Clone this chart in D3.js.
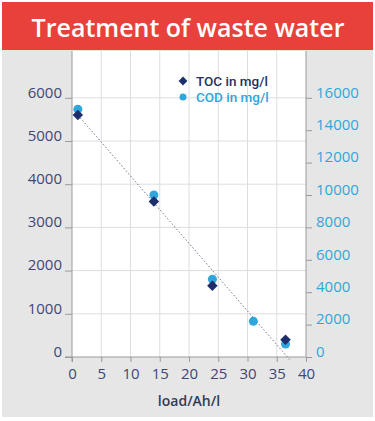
<!DOCTYPE html>
<html>
<head>
<meta charset="utf-8">
<script src="https://cdn.jsdelivr.net/npm/d3@7"></script>
<style>
  body { margin: 0; background: white; }
  svg { display: block; font-family: "Open Sans", sans-serif; }
</style>
</head>
<body>
<svg id="chart"></svg>
<script>
// values
const tocLoad = [1, 14, 24, 36.5];
const tocValues = [5600, 3600, 1650, 400];
const codLoad = [1, 14, 24, 31, 36.5];
const codValues = [15300, 10000, 4800, 2200, 800];
const trendLoad = [1, 37.2];
const trendValues = [5600, -60];
const xTicks = [0, 5, 10, 15, 20, 25, 30, 35, 40];
const leftTicks = [0, 1000, 2000, 3000, 4000, 5000, 6000];
const rightTicks = [0, 2000, 4000, 6000, 8000, 10000, 12000, 14000, 16000];

const dimensions = {
    width: 375,
    height: 421,
    plot: { left: 72, right: 306, top: 51, bottom: 357 }
};

const svg = d3.select("#chart")
    .attr("width", dimensions.width)
    .attr("height", dimensions.height);

const dark = "#3f4777";
const cyan = "#2fa6dc";

// gray panel and white plot area
svg.append("rect")
    .attr("x", 2).attr("y", 50)
    .attr("width", 371).attr("height", 367)
    .attr("fill", "#e6e6e6");

const xScale = d3.scaleLinear().domain([0, 40]).range([dimensions.plot.left, dimensions.plot.right]);
const yLeft = d3.scaleLinear().domain([0, 7000]).range([dimensions.plot.bottom, 54.6]);
const yRight = d3.scaleLinear().domain([0, 7000 * 16000 / 6000]).range([dimensions.plot.bottom, 54.6]);

svg.append("rect")
    .attr("x", dimensions.plot.left).attr("y", dimensions.plot.top)
    .attr("width", dimensions.plot.right - dimensions.plot.left)
    .attr("height", dimensions.plot.bottom - dimensions.plot.top)
    .attr("fill", "white");

// grid
svg.append("g")
    .selectAll("line")
    .data(xTicks.filter(d => d > 0 && d < 40))
    .enter().append("line")
    .attr("x1", d => xScale(d)).attr("x2", d => xScale(d))
    .attr("y1", dimensions.plot.top).attr("y2", dimensions.plot.bottom)
    .attr("stroke", "#dedede");

svg.append("g")
    .selectAll("line")
    .data(leftTicks.filter(d => d > 0))
    .enter().append("line")
    .attr("x1", dimensions.plot.left).attr("x2", dimensions.plot.right)
    .attr("y1", d => yLeft(d)).attr("y2", d => yLeft(d))
    .attr("stroke", "#dedede");

// axes
const xAxis = svg.append("g")
    .attr("transform", `translate(0, ${dimensions.plot.bottom})`)
    .call(d3.axisBottom(xScale).tickValues(xTicks).tickSize(5).tickPadding(6).tickSizeOuter(0));
xAxis.select(".domain").attr("d", `M${dimensions.plot.left - 7},0H${dimensions.plot.right}`);

const leftAxis = svg.append("g")
    .attr("transform", `translate(${dimensions.plot.left}, 0)`)
    .call(d3.axisLeft(yLeft).tickValues(leftTicks).tickFormat(d3.format("d")).tickSize(7).tickPadding(3).tickSizeOuter(0));
leftAxis.select(".domain").attr("d", `M0,${dimensions.plot.top}V${dimensions.plot.bottom + 5}`);
leftAxis.selectAll(".tick text").attr("dy", "-0.05em");

const rightAxis = svg.append("g")
    .attr("transform", `translate(${dimensions.plot.right}, 0)`)
    .call(d3.axisRight(yRight).tickValues(rightTicks).tickFormat(d3.format("d")).tickSize(6).tickPadding(4).tickSizeOuter(0));
rightAxis.select(".domain").attr("d", `M0,${dimensions.plot.top}V${dimensions.plot.bottom}`);
rightAxis.selectAll(".tick text").attr("dy", "-0.05em");

svg.selectAll(".domain").attr("stroke", "#9a9a9a");
svg.selectAll(".tick line").attr("stroke", "#9a9a9a");
svg.selectAll(".tick text")
    .style("font-family", "'Open Sans', sans-serif")
    .style("font-size", "15px");
xAxis.selectAll(".tick text").attr("fill", dark);
leftAxis.selectAll(".tick text").attr("fill", dark);
rightAxis.selectAll(".tick text").attr("fill", cyan);

// x label
svg.append("text")
    .attr("x", 189)
    .attr("y", 406)
    .attr("text-anchor", "middle")
    .attr("fill", "#333a55")
    .style("font-size", "14px")
    .style("font-weight", "600")
    .text("load/Ah/l");

// trend line
const trend = trendLoad.map((d, i) => [d, trendValues[i]]);
svg.append("path")
    .datum(trend)
    .attr("fill", "none")
    .attr("stroke", "#6c7a96")
    .attr("stroke-width", 1)
    .attr("stroke-dasharray", "1.5,2")
    .attr("d", d3.line().x(d => xScale(d[0])).y(d => yLeft(d[1])));

// COD points
svg.append("g")
    .selectAll("circle")
    .data(codLoad.map((d, i) => ({ load: d, value: codValues[i] })))
    .enter().append("circle")
    .attr("cx", d => xScale(d.load))
    .attr("cy", d => yRight(d.value))
    .attr("r", 4.5)
    .attr("fill", cyan);

// TOC points
const diamond = d3.symbol().type(d3.symbolDiamond2).size(70);
svg.append("g")
    .selectAll("path")
    .data(tocLoad.map((d, i) => ({ load: d, value: tocValues[i] })))
    .enter().append("path")
    .attr("transform", d => `translate(${xScale(d.load)},${yLeft(d.value)})`)
    .attr("d", diamond)
    .attr("fill", "#1e2d6b");

// legend
const legend = svg.append("g").attr("transform", "translate(183, 0)");
legend.append("path")
    .attr("transform", "translate(0, 81)")
    .attr("d", d3.symbol().type(d3.symbolDiamond2).size(50))
    .attr("fill", "#1e2d6b");
legend.append("circle")
    .attr("cx", 0).attr("cy", 97).attr("r", 3.5)
    .attr("fill", cyan);
legend.append("text")
    .attr("x", 13).attr("y", 86)
    .attr("fill", "#262f60")
    .style("font-family", "Roboto, sans-serif")
    .style("font-size", "13.5px")
    .style("font-weight", "500")
    .text("TOC in mg/l");
legend.append("text")
    .attr("x", 13).attr("y", 102)
    .attr("fill", cyan)
    .style("font-family", "Roboto, sans-serif")
    .style("font-size", "13.5px")
    .style("font-weight", "500")
    .text("COD in mg/l");

// title bar
svg.append("rect")
    .attr("x", 2).attr("y", 2)
    .attr("width", 371).attr("height", 48)
    .attr("fill", "#e8413b");
svg.append("text")
    .attr("x", 188)
    .attr("y", 37)
    .attr("text-anchor", "middle")
    .attr("fill", "white")
    .style("font-size", "25px")
    .style("font-weight", "600")
    .text("Treatment of waste water");
</script>
</body>
</html>
